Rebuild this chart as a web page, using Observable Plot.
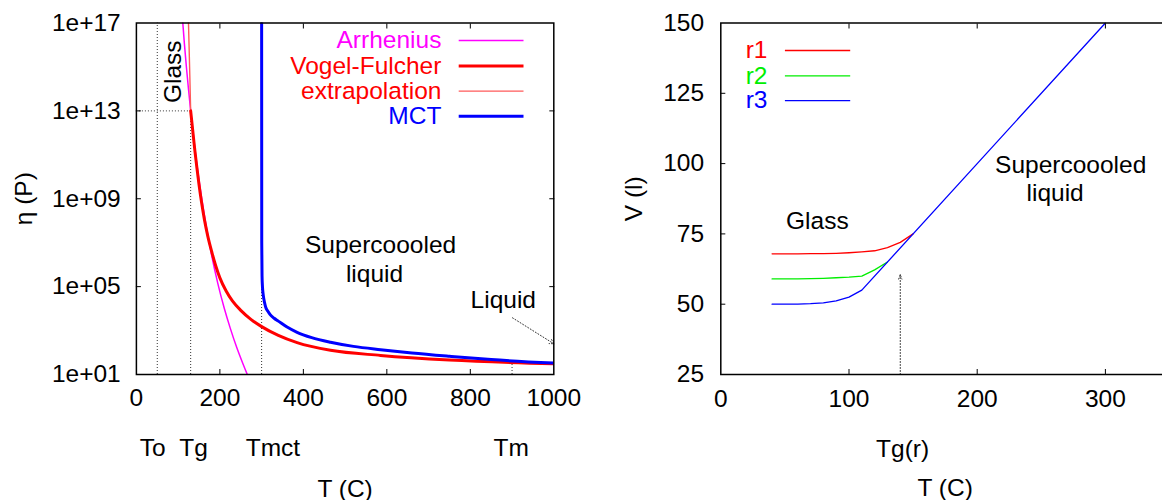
<!DOCTYPE html>
<html>
<head>
<meta charset="utf-8">
<script src="https://cdn.jsdelivr.net/npm/d3@7"></script>
<script src="https://cdn.jsdelivr.net/npm/@observablehq/plot@0.6"></script>
<style>
  html, body { margin: 0; padding: 0; background: #fff; overflow: hidden; }
  #wrap { position: relative; width: 1162px; height: 500px; overflow: hidden; }
  #left { position: absolute; left: 0; top: 0; width: 580px; height: 500px; }
  #right { position: absolute; left: 580px; top: 0; width: 600px; height: 500px; }
  #wrap svg { max-width: none !important; }
</style>
</head>
<body>
<div id="wrap"><div id="left"></div><div id="right"></div></div>
<script>
// ---------------- data: left panel (viscosity, log10 of eta in poise) ----------------
const leftXTicks = [0, 200, 400, 600, 800, 1000];
const leftXInnerTicks = [200, 400, 600, 800];
const leftYTicks = [1, 5, 9, 13, 17];
const leftYTickLabels = ["1e+01", "1e+05", "1e+09", "1e+13", "1e+17"];

const arrheniusT      = [110, 115, 120, 125, 130, 140, 150, 165, 180, 195, 210, 225, 240, 255, 270];
const arrheniusLogEta = [17.3, 16.05, 14.95, 13.95, 13.0, 11.3, 9.85, 8.0, 6.45, 5.15, 4.05, 3.1, 2.25, 1.5, 0.8];

const vfT      = [130, 135, 140, 145, 150, 156, 163, 171, 181, 190, 200, 215, 230, 250, 275, 300, 340, 385, 465, 585, 750, 1000];
const vfLogEta = [13.0, 12.1, 11.2, 10.4, 9.65, 8.85, 8.05, 7.3, 6.55, 5.95, 5.4, 4.8, 4.35, 3.92, 3.5, 3.18, 2.78, 2.45, 2.1, 1.87, 1.66, 1.49];

const extrapT      = [124.5, 126, 128, 130];
const extrapLogEta = [17.2, 16.1, 14.6, 13.0];

const mctT      = [300, 300.3, 301, 302, 304, 307, 310, 315, 320, 330, 340, 360, 385, 420, 465, 520, 585, 660, 750, 850, 1000];
const mctLogEta = [18, 7.0, 5.5, 5.0, 4.6, 4.28, 4.05, 3.88, 3.74, 3.56, 3.43, 3.17, 2.92, 2.68, 2.47, 2.28, 2.13, 1.98, 1.83, 1.68, 1.52];

const tempMarkers      = [50, 130, 300, 900];          // To, Tg, Tmct, Tm
const tempMarkerTop    = [17, 13, 17, 1.55];           // top of each dotted guide
const tempLabels       = ["To", "Tg", "Tmct", "Tm"];
const tempLabelT       = [39, 137, 327, 898];
const glassLevel       = 13;                           // eta(Tg) = 1e13 P

const leftLegendLabels = ["Arrhenius", "Vogel-Fulcher", "extrapolation", "MCT"];

// ---------------- data: right panel (volume) ----------------
const rightXTicks = [0, 100, 200, 300];
const rightXInnerTicks = [100, 200, 300];
const rightYTicks = [25, 50, 75, 100, 125, 150];
const rightYInnerTicks = [50, 75, 100, 125];

const r1T = [40, 50, 60, 70, 80, 90, 100, 110, 120, 130, 140, 150];
const r1V = [67.9, 67.9, 67.9, 67.95, 68.0, 68.1, 68.3, 68.6, 69.0, 70.1, 72.0, 75.0];
const r2T = [40, 50, 60, 70, 80, 90, 100, 110, 120, 130];
const r2V = [59.0, 59.0, 59.0, 59.1, 59.2, 59.4, 59.6, 60.0, 62.2, 65.0];
const r3T = [40, 50, 60, 70, 80, 90, 100, 110, 300];
const r3V = [50.0, 50.0, 50.05, 50.2, 50.5, 51.2, 52.5, 55.0, 150.0];

const tgRT = 140, tgRTop = 60.5;
const rightLegendLabels = ["r1", "r2", "r3"];

// ---------------- helpers ----------------
const FONT = "'Liberation Sans', Arial, Helvetica, sans-serif";
const FS = 24.5;
const table = (xs, ys) => xs.map((x, i) => ({x, y: ys[i]}));
const dotted = {stroke: "#333", strokeWidth: 1, strokeDasharray: "1,2"};
const styleObj = {fontFamily: FONT, fontSize: FS + "px", background: "transparent", color: "#000", overflow: "visible", maxWidth: "none"};

function addLegend(svg, items, textRight, lx1, lx2) {
  const g = d3.select(svg).append("g").attr("font-family", FONT).attr("font-size", FS);
  items.forEach(it => {
    g.append("text").attr("x", textRight).attr("y", it.y).attr("dy", "0.32em")
      .attr("text-anchor", "end").attr("fill", it.text).text(it.label);
    g.append("line").attr("x1", lx1).attr("x2", lx2).attr("y1", it.y).attr("y2", it.y)
      .attr("stroke", it.color).attr("stroke-width", it.width);
  });
}

// ---------------- left plot ----------------
const leftPlot = Plot.plot({
  width: 580, height: 500,
  marginLeft: 135.9, marginRight: 26.7, marginTop: 22.5, marginBottom: 126,
  style: styleObj,
  x: {domain: [0, 1000]},
  y: {domain: [1, 17]},
  marks: [
    Plot.ruleY([glassLevel], {x1: 0, x2: tempMarkers[1], ...dotted}),
    Plot.ruleX(tempMarkers.map((t, i) => ({t, top: tempMarkerTop[i]})), {x: "t", y1: 1, y2: "top", ...dotted}),
    Plot.arrow([{x1: 901, y1: 3.58, x2: 1000, y2: 2.4}], {x1: "x1", y1: "y1", x2: "x2", y2: "y2", headLength: 7, ...dotted}),
    Plot.line(table(arrheniusT, arrheniusLogEta), {x: "x", y: "y", stroke: "#ff00ff", strokeWidth: 1.5, curve: "monotone-x", clip: true}),
    Plot.line(table(extrapT, extrapLogEta), {x: "x", y: "y", stroke: "#ff5a5a", strokeWidth: 1.4, curve: "monotone-x", clip: true}),
    Plot.line(table(vfT, vfLogEta), {x: "x", y: "y", stroke: "#ff0000", strokeWidth: 3, curve: "monotone-x", clip: true}),
    Plot.line(table(mctT, mctLogEta), {x: "x", y: "y", stroke: "#0000ff", strokeWidth: 3, curve: "monotone-x", clip: true}),
    Plot.frame({stroke: "#000", strokeWidth: 1.5}),
    Plot.axisX(leftXTicks, {anchor: "bottom", tickSize: 0, tickPadding: 14.5, tickFormat: d => String(d), label: null}),
    Plot.axisX(leftXInnerTicks, {anchor: "bottom", tickSize: -5, tickFormat: () => "", label: null}),
    Plot.axisX(leftXInnerTicks, {anchor: "top", tickSize: -5, tickFormat: () => "", label: null}),
    Plot.axisY(leftYTicks, {anchor: "left", tickSize: 0, tickPadding: 15.7, tickFormat: d => leftYTickLabels[leftYTicks.indexOf(d)], label: null}),
    Plot.axisY(leftYTicks.slice(1, -1), {anchor: "left", tickSize: -5, tickFormat: () => "", label: null}),
    Plot.axisY(leftYTicks.slice(1, -1), {anchor: "right", tickSize: -5, tickFormat: () => "", label: null}),
    Plot.text(tempLabels.map((s, i) => ({s, t: tempLabelT[i]})), {x: "t", text: "s", frameAnchor: "bottom", lineAnchor: "top", dy: 64.5, fill: "#000"}),
    Plot.text(["T (C)"], {frameAnchor: "bottom", textAnchor: "middle", lineAnchor: "top", dy: 105, fill: "#000"}),
    Plot.text(["η (P)"], {frameAnchor: "left", textAnchor: "middle", lineAnchor: "middle", rotate: -90, dx: -111.8, fill: "#000"}),
    Plot.text([{s: "Glass", x: 87.3, y: 14.78}], {x: "x", y: "y", text: "s", rotate: -90, fill: "#000"}),
    Plot.text([{s: "Supercoooled", x: 585, y: 6.87}, {s: "liquid", x: 570.5, y: 5.55}, {s: "Liquid", x: 879, y: 4.38}], {x: "x", y: "y", text: "s", fill: "#000"})
  ]
});
document.getElementById("left").appendChild(leftPlot);
addLegend(leftPlot, [
  {label: leftLegendLabels[0], y: 40.6, color: "#ff00ff", text: "#ff00ff", width: 1.5},
  {label: leftLegendLabels[1], y: 65.9, color: "#ff0000", text: "#ff0000", width: 3},
  {label: leftLegendLabels[2], y: 91.1, color: "#ff5a5a", text: "#ff0000", width: 1.4},
  {label: leftLegendLabels[3], y: 116.3, color: "#0000ff", text: "#0000ff", width: 3}
], 441.4, 458.7, 523.5);

// ---------------- right plot ----------------
const rightPlot = Plot.plot({
  width: 600, height: 500,
  marginLeft: 140.3, marginRight: 11, marginTop: 22.5, marginBottom: 126,
  style: styleObj,
  x: {domain: [0, 350]},
  y: {domain: [25, 150]},
  marks: [
    Plot.arrow([{x: tgRT, y1: 25, y2: tgRTop}], {x1: "x", x2: "x", y1: "y1", y2: "y2", headLength: 7, headAngle: 40, ...dotted}),
    Plot.line(table(r1T, r1V), {x: "x", y: "y", stroke: "#ff0000", strokeWidth: 1.3}),
    Plot.line(table(r2T, r2V), {x: "x", y: "y", stroke: "#00ee00", strokeWidth: 1.3}),
    Plot.line(table(r3T, r3V), {x: "x", y: "y", stroke: "#0000ff", strokeWidth: 1.3, clip: true}),
    Plot.frame({stroke: "#000", strokeWidth: 1.5}),
    Plot.axisX(rightXTicks, {anchor: "bottom", tickSize: 0, tickPadding: 15.5, tickFormat: d => String(d), label: null}),
    Plot.axisX(rightXInnerTicks, {anchor: "bottom", tickSize: -5, tickFormat: () => "", label: null}),
    Plot.axisX(rightXInnerTicks, {anchor: "top", tickSize: -5, tickFormat: () => "", label: null}),
    Plot.axisY(rightYTicks, {anchor: "left", tickSize: 0, tickPadding: 16.7, tickFormat: d => String(d), label: null}),
    Plot.axisY(rightYInnerTicks, {anchor: "left", tickSize: -5, tickFormat: () => "", label: null}),
    Plot.text([{s: "Tg(r)", t: 141.8}], {x: "t", text: "s", frameAnchor: "bottom", lineAnchor: "top", dy: 65, fill: "#000"}),
    Plot.text(["T (C)"], {frameAnchor: "bottom", textAnchor: "middle", lineAnchor: "top", dy: 104, fill: "#000"}),
    Plot.text(["V (l)"], {frameAnchor: "left", textAnchor: "middle", lineAnchor: "middle", rotate: -90, dx: -86.4, fill: "#000"}),
    Plot.text([{s: "Glass", x: 75.3, y: 79.55}, {s: "Supercoooled", x: 272.9, y: 99.47}, {s: "liquid", x: 260.8, y: 89.6}], {x: "x", y: "y", text: "s", fill: "#000"})
  ]
});
document.getElementById("right").appendChild(rightPlot);
addLegend(rightPlot, [
  {label: rightLegendLabels[0], y: 50.5, color: "#ff0000", text: "#ff0000", width: 1.3},
  {label: rightLegendLabels[1], y: 75.8, color: "#00ee00", text: "#00ee00", width: 1.3},
  {label: rightLegendLabels[2], y: 100.6, color: "#0000ff", text: "#0000ff", width: 1.3}
], 187.5, 204.9, 270.2);
</script>
</body>
</html>
